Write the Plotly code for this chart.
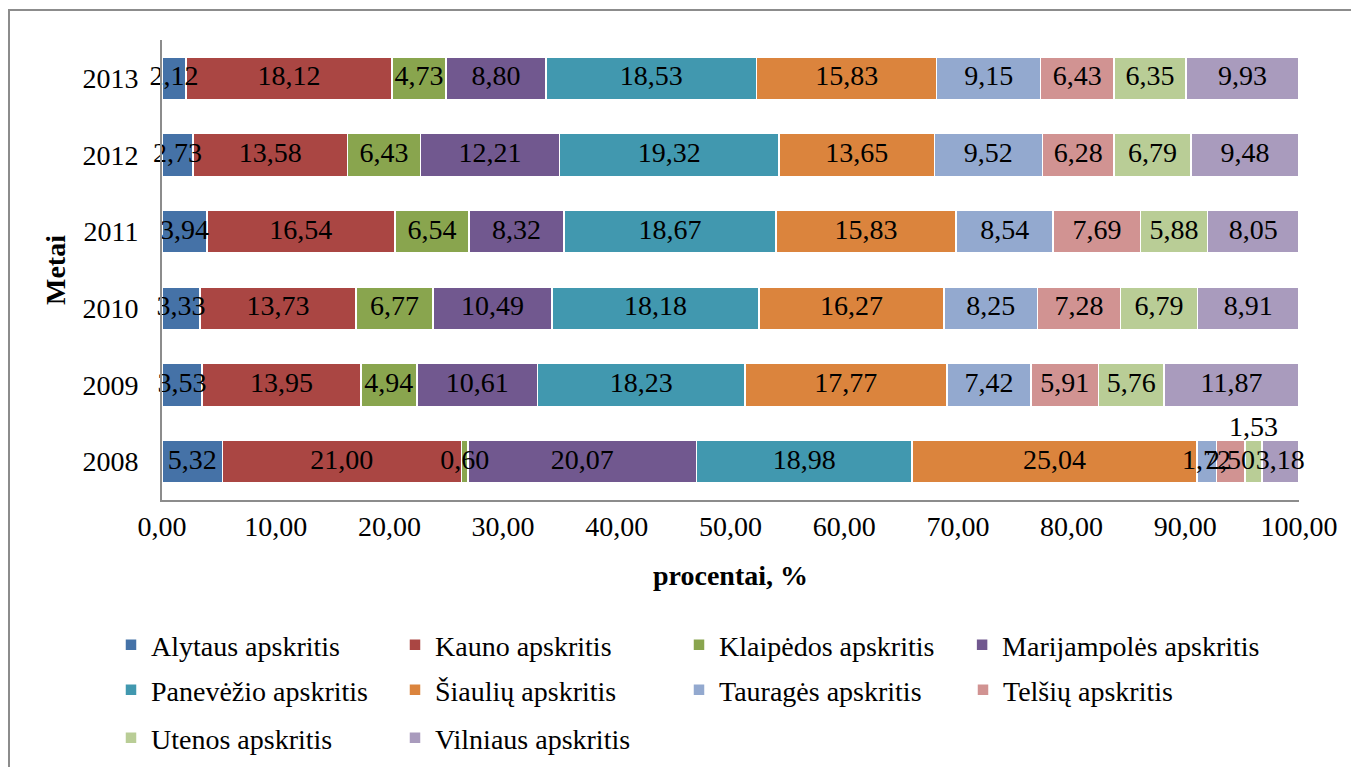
import plotly.graph_objects as go

years = ["2008", "2009", "2010", "2011", "2012", "2013"]

regions = [
    "Alytaus apskritis",
    "Kauno apskritis",
    "Klaipėdos apskritis",
    "Marijampolės apskritis",
    "Panevėžio apskritis",
    "Šiaulių apskritis",
    "Tauragės apskritis",
    "Telšių apskritis",
    "Utenos apskritis",
    "Vilniaus apskritis",
]

# shares per region, years 2008..2013
alytaus = [5.32, 3.53, 3.33, 3.94, 2.73, 2.12]
kauno = [21.00, 13.95, 13.73, 16.54, 13.58, 18.12]
klaipedos = [0.60, 4.94, 6.77, 6.54, 6.43, 4.73]
marijampoles = [20.07, 10.61, 10.49, 8.32, 12.21, 8.80]
panevezio = [18.98, 18.23, 18.18, 18.67, 19.32, 18.53]
siauliu = [25.04, 17.77, 16.27, 15.83, 13.65, 15.83]
taurages = [1.72, 7.42, 8.25, 8.54, 9.52, 9.15]
telsiu = [2.50, 5.91, 7.28, 7.69, 6.28, 6.43]
utenos = [1.53, 5.76, 6.79, 5.88, 6.79, 6.35]
vilniaus = [3.18, 11.87, 8.91, 8.05, 9.48, 9.93]

series = [alytaus, kauno, klaipedos, marijampoles, panevezio,
          siauliu, taurages, telsiu, utenos, vilniaus]

colors = ["#4572A7", "#AA4643", "#89A54E", "#71588F", "#4198AF",
          "#DB843D", "#93A9CF", "#D19392", "#B9CD96", "#A99BBD"]

# which legend box each region goes to (3 rows, the long 4th column name gets its own box)
legend_of = ["legend", "legend", "legend", "legend4",
             "legend2", "legend2", "legend2", "legend2",
             "legend3", "legend3"]

FONT = "Liberation Serif, Times New Roman, serif"
FS = 28


def fmt(v):
    return f"{v:.2f}".replace(".", ",")


fig = go.Figure()
for i, (name, vals) in enumerate(zip(regions, series)):
    fig.add_trace(go.Bar(
        y=years, x=vals, name=name, orientation="h",
        marker=dict(color=colors[i], line=dict(color="white", width=1.5)),
        legend=legend_of[i],
    ))

# value labels on top of all bars (they overflow the thin segments)
lab_x, lab_y, lab_t = [], [], []
base = [0.0] * len(years)
for name, vals in zip(regions, series):
    for j, v in enumerate(vals):
        if not (name == "Utenos apskritis" and years[j] == "2008"):
            lab_x.append(base[j] + v / 2)
            lab_y.append(years[j])
            lab_t.append(fmt(v))
        base[j] += v
fig.add_trace(go.Scatter(
    x=lab_x, y=lab_y, text=lab_t, mode="text", textposition="middle center",
    textfont=dict(family=FONT, size=FS, color="black"),
    cliponaxis=False, showlegend=False, hoverinfo="skip",
))

# label of the thin Utenos 2008 segment sits above the bar
ut_pos = sum(s[0] for s in series[:8]) + utenos[0] / 2
fig.add_annotation(x=ut_pos, y=0, yshift=35, showarrow=False,
                   text=fmt(utenos[0]),
                   font=dict(family=FONT, size=FS, color="black"))

W, H = 1359, 767
COL = 283.7
LEFT = 103


def legend_box(px_x, px_y, ew=239):
    return dict(orientation="h", xref="container", yref="container",
                xanchor="left", yanchor="middle",
                x=px_x / W, y=(H - px_y) / H,
                entrywidth=ew, entrywidthmode="pixels",
                traceorder="normal",
                font=dict(family=FONT, size=FS, color="black"),
                bgcolor="rgba(0,0,0,0)")


PL, PT, PB, PR = 154, 32, 492, 1291

fig.update_layout(
    barmode="stack",
    bargap=0.44,
    width=W, height=H,
    margin=dict(l=PL, r=W - PR, t=PT, b=H - PB, autoexpand=False),
    paper_bgcolor="white", plot_bgcolor="white",
    font=dict(family=FONT, size=FS, color="black"),
    separators=", ",
    showlegend=True,
    legend=legend_box(LEFT, 637),
    legend4=legend_box(LEFT + 3 * COL, 637, ew=0),
    legend2=legend_box(LEFT, 682),
    legend3=legend_box(LEFT, 730),
    xaxis=dict(range=[0, 100], dtick=10, tickformat=".2f",
               showgrid=False, zeroline=False, showline=True,
               linecolor="#8c8c8c", linewidth=2, ticks="",
               ticklabelstandoff=0,
               title=dict(text="<b>procentai, %</b>", standoff=25,
                          font=dict(family=FONT, size=FS))),
    yaxis=dict(type="category", categoryorder="array", categoryarray=years,
               range=[-0.5, 5.5],
               showgrid=False, zeroline=False,
               showline=True, linecolor="#8c8c8c", linewidth=2, ticks="",
               ticklabelstandoff=16,
               title=dict(text="<b>Metai</b>", standoff=9,
                          font=dict(family=FONT, size=FS))),
    shapes=[dict(type="rect", xref="paper", yref="paper",
                 x0=(1 - PL) / (PR - PL), x1=1.2,
                 y0=-0.8, y1=1 + (PT - 2) / (PB - PT),
                 line=dict(color="#8c8c8c", width=2), layer="below")],
)

fig.write_html("out.html")
